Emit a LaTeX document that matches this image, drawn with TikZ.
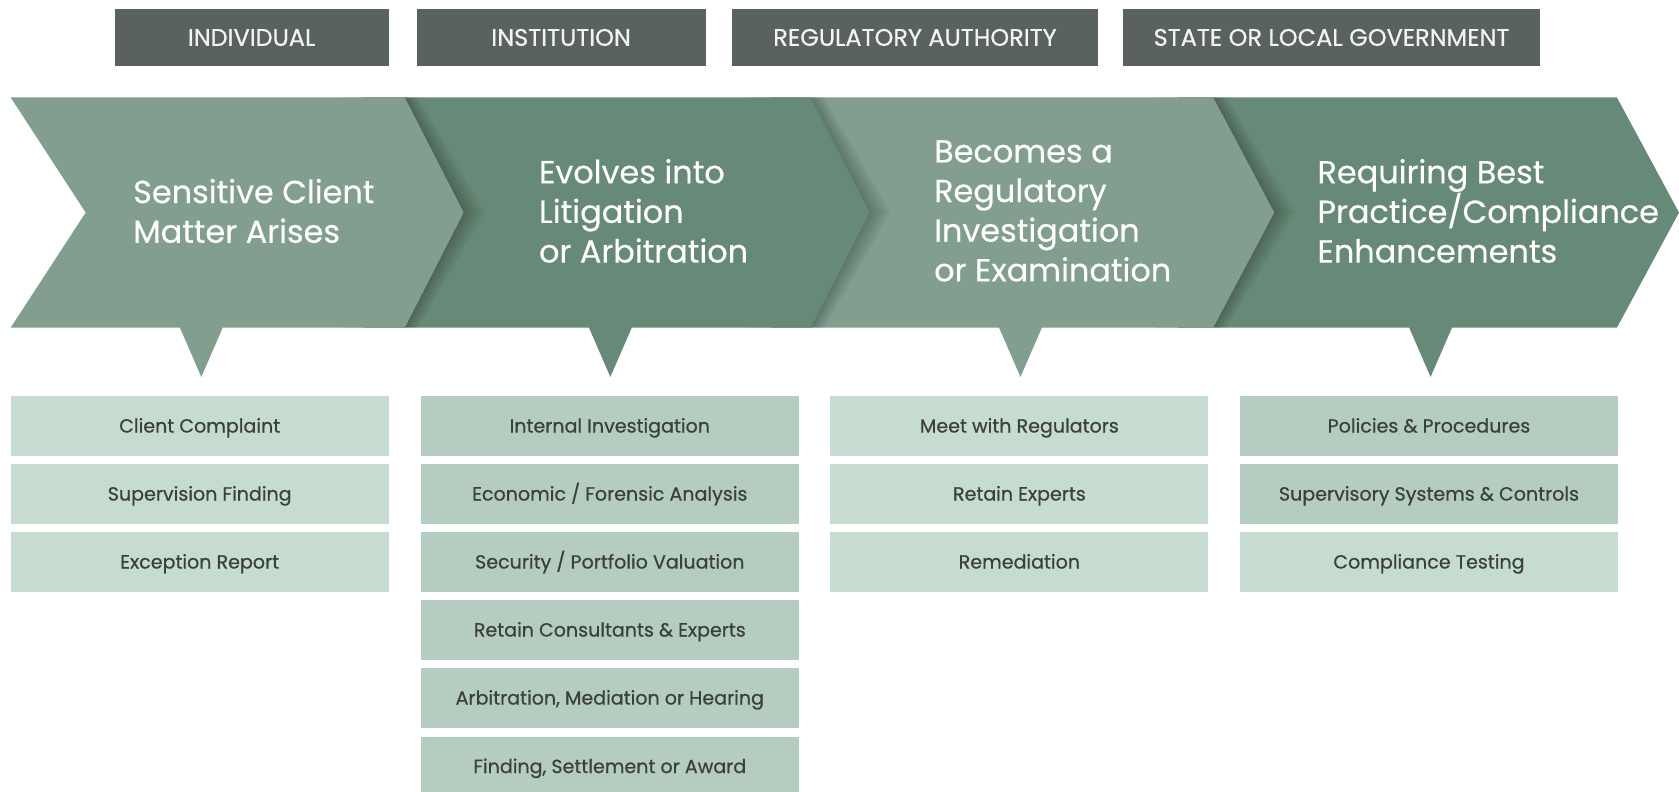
\documentclass[tikz,border=0pt]{standalone}
\usepackage{fontspec}
\setmainfont{Poppins}
\newfontfamily\popfam{Poppins}
\newfontfamily\popbold[FakeBold=0.6]{Poppins}
\newfontfamily\poptitle[FakeBold=0.3]{Poppins}
\newcommand\mytitlefont{\poptitle\fontsize{14.9}{18.5}\selectfont}
\newcommand\myhdrfont{\popbold\fontsize{11.2}{12}\selectfont}
\newcommand\myitemfont{\popbold\fontsize{8.9}{10}\selectfont}
\definecolor{hdrc}{HTML}{59625E}
\definecolor{hdrt}{HTML}{F2F4F3}
\definecolor{chl}{HTML}{819E8F}
\definecolor{chd}{HTML}{678A78}
\definecolor{lsl}{HTML}{C6DCD1}
\definecolor{lsd}{HTML}{B5CDC1}
\definecolor{lst}{HTML}{3B403E}
\begin{document}
\begin{tikzpicture}[x=0.5pt,y=-0.5pt,
  hdr/.style={fill=hdrc, text=hdrt, minimum height=27pt, inner sep=0pt, font=\myhdrfont, text height=7.8pt, text depth=0pt},
  item/.style={minimum width=176.5pt, minimum height=27.75pt, inner sep=0pt, text=lst, font=\myitemfont, text height=6.2pt, text depth=0pt},
  itemL/.style={item, fill=lsl},
  itemD/.style={item, fill=lsd},
  ttl/.style={anchor=west, align=left, text=white, font=\mytitlefont, inner sep=0pt},
  shad/.style={fill=black, opacity=0.018}]
\useasboundingbox (0,0) rectangle (1568,739);
\fill[white] (0,0) rectangle (1568,739);

% header boxes
\node[hdr, minimum width=128pt]   (h1) at (235,35)    {INDIVIDUAL};
\node[hdr, minimum width=135pt]   (h2) at (524,35)    {INSTITUTION};
\node[hdr, minimum width=170.5pt] (h3) at (854.5,35)  {REGULATORY AUTHORITY};
\node[hdr, minimum width=194.5pt] (h4) at (1243.5,35) {STATE OR LOCAL GOVERNMENT};

% chevron 4 (dark)
\fill[chd] (1100,91) -- (1510,91) -- (1568,198.5) -- (1510,306) -- (1100,306) -- cycle;
\fill[chd] (1316,300) -- (1356,300) -- (1356,306) -- (1336,352) -- (1316,306) -- cycle;
% shadow of chevron 3
\foreach \i in {1,...,12}{
  \fill[shad] (1080,91) -- ({1133+\i*1.1},91) -- ({1190+\i*1.7},198.5) -- ({1133+\i*1.1},306) -- (1080,306) -- cycle;}
% chevron 3 (light)
\fill[chl] (720,91) -- (1133,91) -- (1190,198.5) -- (1133,306) -- (720,306) -- cycle;
\fill[chl] (933,300) -- (973,300) -- (973,306) -- (953,352) -- (933,306) -- cycle;
% shadow of chevron 2
\foreach \i in {1,...,12}{
  \fill[shad] (700,91) -- ({757+\i*1.1},91) -- ({812+\i*1.7},198.5) -- ({757+\i*1.1},306) -- (700,306) -- cycle;}
% chevron 2 (dark)
\fill[chd] (340,91) -- (757,91) -- (812,198.5) -- (757,306) -- (340,306) -- cycle;
\fill[chd] (550,300) -- (590,300) -- (590,306) -- (570,352) -- (550,306) -- cycle;
% shadow of chevron 1
\foreach \i in {1,...,12}{
  \fill[shad] (320,91) -- ({378+\i*1.1},91) -- ({433+\i*1.7},198.5) -- ({378+\i*1.1},306) -- (320,306) -- cycle;}
% chevron 1 (light)
\fill[chl] (10,91) -- (378,91) -- (433,198.5) -- (378,306) -- (10,306) -- (80,198.5) -- cycle;
\fill[chl] (168,300) -- (208,300) -- (208,306) -- (188,352) -- (168,306) -- cycle;

% titles
\node[ttl] (t1) at (124,197) {Sensitive Client\\Matter Arises};
\node[ttl] (t2) at (503,197) {Evolves into\\Litigation\\or Arbitration};
\node[ttl] (t3) at (872,197) {Becomes a\\Regulatory\\Investigation\\or Examination};
\node[ttl] (t4) at (1230,197) {Requiring Best\\Practice/Compliance\\Enhancements};

% column 1
\node[itemL] (a1) at (186.5,397.75) {Client Complaint};
\node[itemL] (a2) at (186.5,461.25) {Supervision Finding};
\node[itemL] (a3) at (186.5,524.75) {Exception Report};
% column 2
\node[itemD] (b1) at (569.5,397.75) {Internal Investigation};
\node[itemD] (b2) at (569.5,461.25) {Economic / Forensic Analysis};
\node[itemD] (b3) at (569.5,524.75) {Security / Portfolio Valuation};
\node[itemD] (b4) at (569.5,588.25) {Retain Consultants \& Experts};
\node[itemD] (b5) at (569.5,651.75) {Arbitration, Mediation or Hearing};
\node[itemD] (b6) at (569.5,715.75) {Finding, Settlement or Award};
% column 3
\node[itemL] (c1) at (952,397.75) {Meet with Regulators};
\node[itemL] (c2) at (952,461.25) {Retain Experts};
\node[itemL] (c3) at (952,524.75) {Remediation};
% column 4
\node[itemD] (d1) at (1334.5,397.75) {Policies \& Procedures};
\node[itemD] (d2) at (1334.5,461.25) {Supervisory Systems \& Controls};
\node[itemL] (d3) at (1334.5,524.75) {Compliance Testing};
\end{tikzpicture}
\end{document}
